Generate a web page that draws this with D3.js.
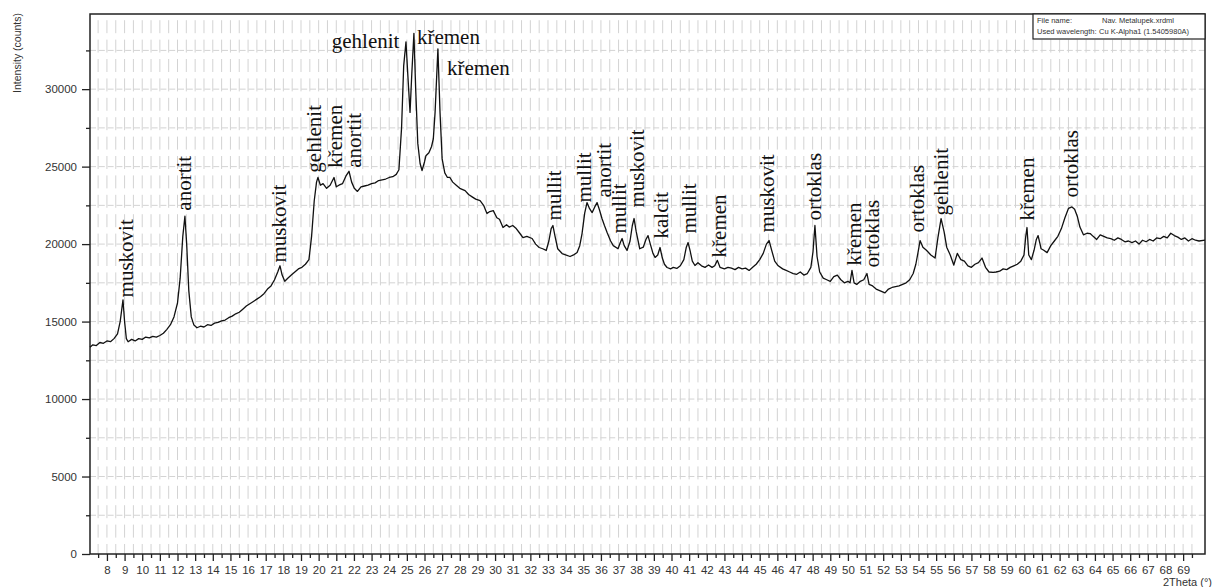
<!DOCTYPE html>
<html>
<head>
<meta charset="utf-8">
<script src="https://cdn.jsdelivr.net/npm/d3@7"></script>
<style>
  body { margin: 0; background: #fff; }
  svg { display: block; }
</style>
</head>
<body>
<div id="xrd-vizu"></div>
<script>
// --data--
const theta = [7.04,7.2,7.4,7.6,7.8,8.0,8.2,8.4,8.6,8.75,8.91,9.0,9.1,9.2,9.4,9.6,9.8,10.0,10.2,10.4,10.6,10.8,11.0,11.2,11.4,11.6,11.8,12.0,12.15,12.3,12.42,12.52,12.64,12.78,12.92,13.1,13.3,13.5,13.7,13.9,14.1,14.3,14.5,14.7,14.9,15.1,15.3,15.5,15.7,15.9,16.1,16.3,16.5,16.7,16.9,17.1,17.3,17.5,17.68,17.81,17.93,18.08,18.25,18.45,18.65,18.85,19.05,19.25,19.45,19.6,19.75,19.88,19.96,20.1,20.25,20.45,20.65,20.87,21.0,21.15,21.35,21.55,21.72,21.87,22.02,22.2,22.4,22.6,22.8,23.0,23.2,23.4,23.6,23.8,24.0,24.2,24.4,24.55,24.7,24.82,24.95,25.05,25.18,25.28,25.4,25.5,25.62,25.75,25.86,26.0,26.08,26.25,26.4,26.5,26.6,26.76,26.88,27.0,27.15,27.3,27.44,27.6,27.8,28.0,28.3,28.5,28.7,28.9,29.15,29.35,29.54,29.7,29.9,30.1,30.25,30.45,30.65,30.8,31.0,31.2,31.4,31.58,31.8,32.1,32.3,32.5,32.7,32.9,33.05,33.18,33.28,33.4,33.55,33.8,34.0,34.25,34.45,34.65,34.8,34.93,35.08,35.21,35.35,35.5,35.65,35.78,35.92,36.06,36.2,36.35,36.55,36.7,36.97,37.1,37.2,37.32,37.48,37.65,37.78,37.88,38.0,38.2,38.4,38.55,38.67,38.8,38.95,39.07,39.22,39.35,39.48,39.6,39.75,39.95,40.1,40.3,40.5,40.7,40.84,40.94,41.05,41.18,41.33,41.5,41.7,41.9,42.1,42.3,42.45,42.6,42.75,43.0,43.2,43.4,43.6,43.8,44.0,44.2,44.4,44.6,44.8,45.0,45.2,45.38,45.53,45.68,45.85,46.05,46.3,46.5,46.7,46.9,47.1,47.3,47.5,47.7,47.9,48.02,48.13,48.25,48.4,48.6,48.8,49.0,49.2,49.4,49.6,49.8,50.0,50.12,50.23,50.35,50.5,50.7,50.9,51.08,51.2,51.4,51.6,51.8,52.1,52.3,52.5,52.7,52.9,53.1,53.3,53.5,53.7,53.85,53.98,54.09,54.25,54.45,54.7,54.94,55.1,55.28,55.45,55.6,55.8,56.0,56.2,56.4,56.6,56.8,57.0,57.2,57.4,57.6,57.8,58.0,58.23,58.4,58.6,58.8,59.0,59.2,59.4,59.6,59.8,59.98,60.08,60.15,60.25,60.4,60.55,60.68,60.78,60.95,61.1,61.29,61.5,61.7,61.9,62.1,62.3,62.5,62.7,62.85,63.0,63.15,63.35,63.55,63.73,63.9,64.1,64.3,64.5,64.7,64.9,65.1,65.3,65.5,65.7,65.9,66.1,66.3,66.5,66.7,66.9,67.1,67.3,67.5,67.7,67.9,68.1,68.3,68.5,68.7,68.9,69.1,69.3,69.5,69.7,69.9,70.24];

const counts = [13350,13500,13450,13650,13600,13750,13700,13900,14200,15000,16400,15000,13900,13700,13850,13750,13900,13850,14000,13950,14050,14000,14100,14250,14500,14800,15300,16200,17800,20500,21800,20000,17000,15300,14800,14600,14700,14650,14800,14750,14900,14950,15050,15100,15250,15350,15500,15600,15800,16000,16150,16300,16450,16600,16800,17100,17300,17700,18200,18600,18000,17600,17800,18000,18200,18400,18500,18700,19000,20500,22800,24000,24300,23800,23900,23600,23800,24300,23700,23800,23900,24400,24700,24000,23600,23400,23700,23750,23800,23900,23950,24100,24150,24200,24300,24350,24500,24800,27500,31500,33050,31000,28500,31000,33600,30000,26500,25200,24750,25300,25700,25900,26300,26800,28500,32600,28500,25500,24600,24300,24300,24000,23800,23600,23450,23200,23050,22900,22800,22500,21970,22100,22160,21700,21600,21070,21250,21100,21200,21000,20700,20420,20500,20360,20000,19780,19700,19590,20200,21000,21200,20500,19700,19390,19300,19200,19300,19460,19900,20680,22000,22680,22300,22030,22400,22680,22200,21650,21200,20750,20200,19900,19700,20100,20360,19900,19590,20200,21200,21650,20800,19700,19800,20300,20550,20000,19400,19140,19300,19780,19100,18700,18490,18400,18500,18430,18600,19000,19800,20100,19600,18900,18620,18800,18600,18500,18650,18500,18600,18950,18500,18400,18500,18450,18350,18500,18400,18450,18300,18500,18700,19000,19400,20000,20230,19600,18900,18600,18400,18300,18200,18100,18050,18200,18000,18100,18500,19500,21200,19200,18200,17800,17700,17600,17900,18000,17700,17500,17600,17500,18300,17500,17400,17600,17700,18100,17400,17300,17100,17000,16850,17100,17200,17250,17300,17400,17500,17700,18100,18700,19500,20230,19800,19600,19300,19100,20400,21650,20800,19800,19300,18650,19400,19000,18900,18600,18500,18700,18800,19100,18500,18200,18170,18200,18250,18400,18350,18500,18600,18700,18900,19300,20500,21070,19300,19000,19600,20300,20550,19700,19600,19450,19900,20200,20500,21000,21700,22300,22400,22250,21800,21100,20600,20700,20680,20500,20300,20600,20500,20400,20350,20250,20400,20300,20150,20200,20100,20200,20000,20250,20150,20300,20200,20400,20350,20500,20400,20700,20550,20450,20300,20400,20200,20350,20250,20200,20250];

// vertical phase labels: name, 2theta, intensity at the foot of the label
const phaseNames = ["muskovit","anortit","muskovit","gehlenit","křemen","anortit","mullit","mullit","anortit","mullit","muskovit","kalcit","mullit","křemen","muskovit","ortoklas","křemen","ortoklas","ortoklas","gehlenit","křemen","ortoklas"];
const phaseTheta = [9.13,12.42,17.81,19.79,20.98,22.06,33.4,35.1,36.23,37.08,38.1,39.46,41.05,42.75,45.47,48.14,50.4,51.42,53.97,55.33,60.21,62.7];
const phaseBase = [16560,22160,18810,24610,24930,24930,21520,22680,23000,20680,22360,20360,20680,19140,20750,21520,18620,18490,20750,21840,21520,23000];

// horizontal labels of the three big peaks
const topNames = ["gehlenit","křemen","křemen"];
const topTheta = [24.58,25.57,27.27];
const topCounts = [32670,32920,30930];
const topAnchor = ["end","start","start"];

const yMajor = [0,5000,10000,15000,20000,25000,30000];
const yMinor = [2500,7500,12500,17500,22500,27500,32500];
const xMajor = d3.range(8,70,1);
const xMinor = d3.range(7.5,70.5,1);

// --svg--
var svg = d3.select("#xrd-vizu")
  .append("svg")
  .attr("width", 1214)
  .attr("height", 587);

// plot box (window.top is taken, so keep these in one object)
var box = {left: 90, right: 1205, top: 14, bottom: 554};

var x = d3.scaleLinear().domain([7.04, 70.24]).range([box.left, box.right]);
var y = d3.scaleLinear().domain([0, 34850]).range([box.bottom, box.top]);

// --grid--
var grid = svg.append("g");
grid.selectAll(".vgrid")
  .data(xMajor.concat(xMinor))
  .enter().append("line")
  .attr("x1", d => x(d)).attr("x2", d => x(d))
  .attr("y1", box.bottom).attr("y2", box.top)
  .attr("stroke", "#d3d3d3")
  .attr("stroke-width", 1)
  .attr("stroke-dasharray", "13,6.4")
  .attr("stroke-dashoffset", 3);

grid.selectAll(".hgrid")
  .data(yMajor.slice(1).concat(yMinor))
  .enter().append("line")
  .attr("x1", box.left).attr("x2", box.right)
  .attr("y1", d => y(d)).attr("y2", d => y(d))
  .attr("stroke", "#d3d3d3")
  .attr("stroke-width", 1)
  .attr("stroke-dasharray", "6,2.8");

// --axes--
svg.append("g")
  .attr("transform", `translate(${box.left},0)`)
  .call(d3.axisLeft(y).tickValues(yMajor).tickFormat(d3.format("d")).tickSize(8).tickSizeOuter(0).tickPadding(5));
svg.append("g")
  .attr("transform", `translate(${box.left},0)`)
  .call(d3.axisLeft(y).tickValues(yMinor).tickSize(4).tickFormat(""));

svg.append("g")
  .attr("transform", `translate(0,${box.bottom})`)
  .call(d3.axisBottom(x).tickValues(xMajor).tickFormat(d3.format("d")).tickSize(7).tickSizeOuter(0).tickPadding(5));
svg.append("g")
  .attr("transform", `translate(0,${box.bottom})`)
  .call(d3.axisBottom(x).tickValues(xMinor).tickSize(4).tickFormat(""));

svg.selectAll(".tick line").attr("stroke", "#222").attr("stroke-width", 1.3);
svg.selectAll(".tick text")
  .style("font-family", "Arial, 'Liberation Sans', sans-serif")
  .style("font-size", "11.5px")
  .attr("fill", "#333");
svg.selectAll(".domain").remove();

// frame round the plot
svg.append("rect")
  .attr("x", box.left).attr("y", box.top)
  .attr("width", box.right - box.left).attr("height", box.bottom - box.top)
  .attr("fill", "none")
  .attr("stroke", "#222")
  .attr("stroke-width", 1.5);

// --pattern--
var line = d3.line()
  .x(d => x(d[0]))
  .y(d => y(d[1]));

svg.append("path")
  .datum(theta.map((t, i) => [t, counts[i]]))
  .attr("d", line)
  .attr("fill", "none")
  .attr("stroke", "#111")
  .attr("stroke-width", 1.3)
  .attr("stroke-linejoin", "round");

// --labels--
svg.selectAll(".phase")
  .data(phaseNames)
  .enter().append("text")
  .attr("transform", (d, i) => `translate(${x(phaseTheta[i])},${y(phaseBase[i])}) rotate(-90)`)
  .attr("dy", "0.3em")
  .style("font-family", "'Liberation Serif', 'Times New Roman', serif")
  .style("font-size", "21px")
  .attr("fill", "#111")
  .text(d => d);

svg.selectAll(".toplabel")
  .data(topNames)
  .enter().append("text")
  .attr("x", (d, i) => x(topTheta[i]))
  .attr("y", (d, i) => y(topCounts[i]))
  .attr("text-anchor", (d, i) => topAnchor[i])
  .style("font-family", "'Liberation Serif', 'Times New Roman', serif")
  .style("font-size", "21px")
  .attr("fill", "#111")
  .text(d => d);

// axis titles
svg.append("text")
  .attr("transform", "translate(21,13) rotate(-90)")
  .attr("text-anchor", "end")
  .style("font-family", "Arial, 'Liberation Sans', sans-serif")
  .style("font-size", "10.5px")
  .attr("fill", "#333")
  .text("Intensity (counts)");

svg.append("text")
  .attr("x", 1212).attr("y", 586)
  .attr("text-anchor", "end")
  .style("font-family", "Arial, 'Liberation Sans', sans-serif")
  .style("font-size", "11px")
  .attr("fill", "#333")
  .text("2Theta (°)");

// --info box--
var info = svg.append("g");
info.append("rect")
  .attr("x", 1033).attr("y", box.top)
  .attr("width", box.right - 1033).attr("height", 25)
  .attr("fill", "#fff")
  .attr("stroke", "#222")
  .attr("stroke-width", 1.2);

var infoRows = [["File name:", "Nav. Metalupek.xrdml", 1102], ["Used wavelength:", "Cu K-Alpha1 (1.5405980A)", 1099]];
infoRows.forEach(function(row, i) {
  info.append("text")
    .attr("x", 1037).attr("y", 23 + i * 11)
    .style("font-family", "Arial, 'Liberation Sans', sans-serif")
    .style("font-size", "7.5px")
    .attr("fill", "#333")
    .text(row[0]);
  info.append("text")
    .attr("x", row[2]).attr("y", 23 + i * 11)
    .style("font-family", "Arial, 'Liberation Sans', sans-serif")
    .style("font-size", "7.5px")
    .attr("fill", "#333")
    .text(row[1]);
});
</script>
</body>
</html>
